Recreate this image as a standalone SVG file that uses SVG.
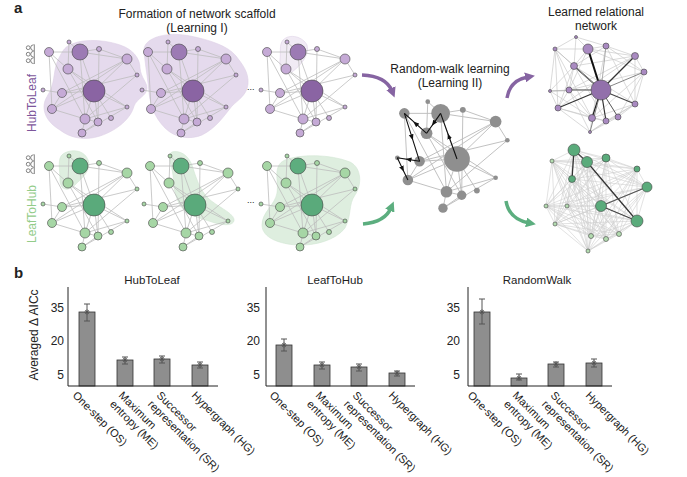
<svg xmlns="http://www.w3.org/2000/svg" xmlns:xlink="http://www.w3.org/1999/xlink" width="687" height="477" viewBox="0 0 687 477">
<style>
text{font-family:"Liberation Sans",Arial,sans-serif;fill:#222}
.t{font-size:12px;text-anchor:middle}
.lab{font-size:11px}
.tick{font-size:12px;text-anchor:end}
.ttl{font-size:11.5px;text-anchor:middle}
.e{fill:none;stroke:#bdbdbd;stroke-width:.8}
.bar{fill:#8e8e8e;stroke:#333;stroke-width:.8}
.err{fill:none;stroke:#555;stroke-width:1}
.ax{fill:none;stroke:#222;stroke-width:1}
.ppl{fill:none;stroke:#666;stroke-width:.8}
.nd{stroke:#444;stroke-width:.6}
.hp{fill:#e5daed;stroke:#ddd0e6;stroke-width:.6}
.hg{fill:#deeedf;stroke:#d2e6d3;stroke-width:.6}
.walk{fill:none;stroke:#111;stroke-width:1.1}
</style>
<defs>
<path id="edges" d="M49 52L80 52M49 52L52 109M49 52L85 119M49 52L68 69M69 42L80 52M69 42L68 69M80 52L99 49M80 52L127 59M80 52L94 91M80 52L85 119M99 49L127 59M99 49L98 122M127 59L94 91M127 59L52 109M127 59L62 93M127 59L137 75M68 69L94 91M68 69L127 107M68 69L98 122M137 75L62 93M137 75L85 119M94 91L62 93M94 91L52 109M94 91L127 107M94 91L85 119M94 91L98 122M94 91L111 118M43 90L62 93M62 93L52 109M52 109L85 119M127 107L85 119M127 107L82 133M85 119L98 122M85 119L82 133M98 122L82 133"/>
<g id="ln">
<circle cx="49" cy="52" r="4.5"/><circle cx="69" cy="42" r="2"/><circle cx="99" cy="49" r="2.5"/><circle cx="127" cy="59" r="5"/><circle cx="68" cy="69" r="5"/><circle cx="137" cy="75" r="2"/><circle cx="43" cy="90" r="2"/><circle cx="62" cy="93" r="4.5"/><circle cx="52" cy="109" r="4.5"/><circle cx="127" cy="107" r="2"/><circle cx="85" cy="119" r="5"/><circle cx="98" cy="122" r="4"/><circle cx="111" cy="118" r="2.5"/><circle cx="82" cy="133" r="4"/>
</g>
<g id="people" class="ppl">
<circle cx="3.3" cy="2.2" r="1.9"/><path d="M0.4 7.6A2.9 2.9 0 0 1 6.2 7.6"/>
<circle cx="9.8" cy="2.2" r="1.9"/><path d="M6.9 7.6A2.9 2.9 0 0 1 12.7 7.6"/>
<circle cx="16.3" cy="2.2" r="1.9"/><path d="M13.4 7.6A2.9 2.9 0 0 1 19.2 7.6"/>
<path d="M0 8.3H19.6"/>
</g>
<path id="star" d="M-2.6 0H2.6M0 -2.6V2.6M-1.8 -1.8L1.8 1.8M-1.8 1.8L1.8 -1.8" fill="none" stroke="#555" stroke-width="0.9"/>
<marker id="ap" viewBox="0 0 10 10" refX="3" refY="5" markerWidth="10" markerHeight="10" markerUnits="userSpaceOnUse" orient="auto"><path d="M0 0L10 5L0 10z" fill="#8664a2"/></marker>
<marker id="ag" viewBox="0 0 10 10" refX="3" refY="5" markerWidth="10" markerHeight="10" markerUnits="userSpaceOnUse" orient="auto"><path d="M0 0L10 5L0 10z" fill="#5cae7f"/></marker>
<marker id="ak" viewBox="0 0 10 10" refX="5" refY="5" markerWidth="6" markerHeight="6" markerUnits="userSpaceOnUse" orient="auto"><path d="M0 1L10 5L0 9z" fill="#111"/></marker>
</defs>

<text x="14" y="13" font-size="15" font-weight="bold">a</text>
<text x="197" y="18" class="t">Formation of network scaffold</text>
<text x="197" y="31.5" class="t">(Learning I)</text>
<text x="450" y="73" class="t">Random-walk learning</text>
<text x="450" y="86.5" class="t">(Learning II)</text>
<text x="596" y="16" class="t">Learned relational</text>
<text x="596" y="29.5" class="t">network</text>

<g id="row-labels">
<use xlink:href="#people" transform="translate(26,64) rotate(-90)"/>
<text transform="translate(36,103) rotate(-90)" font-size="12" text-anchor="middle" style="fill:#7d569b">HubToLeaf</text>
<use xlink:href="#people" transform="translate(26,174) rotate(-90)"/>
<text transform="translate(36,214) rotate(-90)" font-size="12" text-anchor="middle" style="fill:#93cc8a">LeafToHub</text>
</g>

<g id="htl-1">
<path class="hp" d="M72 44C85 38 110 40 125 47C135 52 140 60 140 68C141 78 147 82 147 88C147 96 137 98 134 106C131 118 118 130 100 136C85 141 70 138 60 130C50 124 44 116 44 107C44 98 50 94 52 86C55 76 54 66 60 56C63 50 66 46 72 44Z"/>
<use xlink:href="#edges" class="e"/>
<use xlink:href="#ln" fill="#c5aad6" class="nd"/>
<circle cx="80" cy="52" r="8" fill="#9c7ab4" class="nd"/>
<circle cx="94" cy="91" r="11" fill="#8a64a3" class="nd"/>
</g>
<g id="htl-2">
<path class="hp" d="M146 44C152 36 170 32 190 36C210 40 228 46 236 56C242 64 249 72 248 84C247 95 238 100 232 106C224 116 216 128 202 135C190 140 175 138 165 128C155 118 150 105 149 92C148 80 146 70 145 60C144 52 143 48 146 44Z"/>
<g transform="translate(99,0)">
<use xlink:href="#edges" class="e"/>
<use xlink:href="#ln" fill="#c5aad6" class="nd"/>
<circle cx="80" cy="52" r="8" fill="#9c7ab4" class="nd"/>
<circle cx="94" cy="91" r="11" fill="#8a64a3" class="nd"/>
</g>
</g>
<g id="htl-3">
<path d="M283 40C290 33 303 37 307 45C310 55 300 66 292 72C285 76 279 70 280 60C281 52 279 45 283 40Z" fill="#f1ebf5" stroke="#ddd0e6" stroke-width="0.6"/>
<g transform="translate(218,0)">
<use xlink:href="#edges" class="e"/>
<use xlink:href="#ln" fill="#c5aad6" class="nd"/>
<circle cx="80" cy="52" r="8" fill="#9c7ab4" class="nd"/>
<circle cx="94" cy="91" r="11" fill="#8a64a3" class="nd"/>
</g>
</g>
<text x="247" y="90" font-size="9">...</text>

<g id="lth-1">
<path class="hg" d="M63 154C70 149 84 149 88 160C92 170 82 178 75 185C68 192 60 190 60 180C60 170 57 158 63 154Z"/>
<g transform="translate(0,114)">
<use xlink:href="#edges" class="e"/>
<use xlink:href="#ln" fill="#a6d6a5" class="nd"/>
<circle cx="80" cy="52" r="8" fill="#5dad7e" class="nd"/>
<circle cx="94" cy="91" r="11" fill="#5aaa7b" class="nd"/>
</g>
</g>
<g id="lth-2">
<path class="hg" d="M172 152C180 150 188 155 192 165C196 178 200 190 208 198C216 206 232 212 234 219C235 226 224 226 212 222C200 218 186 215 180 205C174 195 174 185 173 175C172 165 166 155 172 152Z"/>
<g transform="translate(101,114)">
<use xlink:href="#edges" class="e"/>
<use xlink:href="#ln" fill="#a6d6a5" class="nd"/>
<circle cx="80" cy="52" r="8" fill="#5dad7e" class="nd"/>
<circle cx="94" cy="91" r="11" fill="#5aaa7b" class="nd"/>
</g>
</g>
<g id="lth-3">
<path class="hg" d="M285 160C300 154 330 154 350 162C362 168 362 185 355 195C348 205 352 215 345 228C336 240 315 246 297 245C280 244 262 238 262 225C262 212 275 205 277 193C279 180 272 166 285 160Z"/>
<g transform="translate(218,114)">
<use xlink:href="#edges" class="e"/>
<use xlink:href="#ln" fill="#a6d6a5" class="nd"/>
<circle cx="80" cy="52" r="8" fill="#5dad7e" class="nd"/>
<circle cx="94" cy="91" r="11" fill="#5aaa7b" class="nd"/>
</g>
</g>
<text x="247" y="203" font-size="9">...</text>

<g id="random-walk-net" transform="translate(457,159) scale(1.17) translate(-94,-91)">
<use xlink:href="#edges" class="e"/>
<use xlink:href="#ln" fill="#8f8f8f"/>
<circle cx="80" cy="52" r="8" fill="#8f8f8f"/>
<circle cx="94" cy="91" r="11" fill="#8f8f8f"/>
</g>

<g id="learned-htl">
<path fill="none" stroke="#cacaca" stroke-width="0.7" d="M555 49 576 37M555 49 588 49M555 49 574 66M555 49 550 91M555 49 569 90M555 49 558 108M555 49 592 118M576 37 588 49M576 37 574 66M576 37 606 46M588 49 606 46M588 49 635 56M588 49 574 66M588 49 569 90M588 49 644 72M606 46 635 56M606 46 574 66M606 46 644 72M606 46 592 118M606 46 635 104M635 56 644 72M635 56 574 66M635 56 569 90M635 56 635 104M635 56 558 108M574 66 550 91M574 66 569 90M574 66 558 108M574 66 635 104M574 66 606 121M644 72 635 104M644 72 569 90M644 72 618 117M644 72 592 118M550 91 569 90M550 91 558 108M550 91 592 118M569 90 558 108M569 90 592 118M569 90 590 132M558 108 592 118M558 108 590 132M558 108 606 121M635 104 592 118M635 104 606 121M635 104 618 117M635 104 590 132M592 118 606 121M592 118 590 132M606 121 618 117M606 121 590 132M618 117 590 132"/>
<g fill="none">
<path d="M601 90 588 49" stroke="#111" stroke-width="2"/>
<path d="M601 90 574 66" stroke="#222" stroke-width="1.4"/>
<path d="M601 90 635 56" stroke="#333" stroke-width="1.3"/>
<path d="M601 90 644 72" stroke="#777" stroke-width="0.9"/>
<path d="M601 90 606 46" stroke="#999" stroke-width="0.8"/>
<path d="M601 90 569 90" stroke="#444" stroke-width="1.1"/>
<path d="M601 90 558 108" stroke="#333" stroke-width="1.2"/>
<path d="M601 90 635 104" stroke="#444" stroke-width="1.1"/>
<path d="M601 90 592 118" stroke="#222" stroke-width="1.3"/>
<path d="M601 90 606 121" stroke="#333" stroke-width="1.2"/>
<path d="M601 90 618 117" stroke="#555" stroke-width="1"/>
<path d="M601 90 590 132" stroke="#777" stroke-width="0.9"/>
<path d="M601 90 550 91" stroke="#aaa" stroke-width="0.8"/>
<path d="M601 90 555 49" stroke="#bbb" stroke-width="0.7"/>
</g>
<g fill="#a98ac1" class="nd">
<circle cx="555" cy="49" r="2"/><circle cx="576" cy="37" r="1.5"/><circle cx="588" cy="49" r="5"/><circle cx="606" cy="46" r="3"/><circle cx="635" cy="56" r="3.5"/><circle cx="574" cy="66" r="3.5"/><circle cx="644" cy="72" r="3"/><circle cx="550" cy="91" r="1.5"/><circle cx="569" cy="90" r="3"/><circle cx="558" cy="108" r="3"/><circle cx="635" cy="104" r="3"/><circle cx="592" cy="118" r="3.5"/><circle cx="606" cy="121" r="3"/><circle cx="618" cy="117" r="3"/><circle cx="590" cy="132" r="1.5"/>
<circle cx="601" cy="90" r="10" fill="#9270ab"/>
</g>
</g>

<g id="learned-lth">
<path fill="none" stroke="#cfcfcf" stroke-width="0.6" d="M552 161 574 150M552 161 587 162M552 161 606 158M552 161 637 169M552 161 572 179M552 161 647 187M552 161 601 206M552 161 546 206M552 161 567 206M552 161 555 224M552 161 637 221M552 161 591 236M552 161 606 239M552 161 619 234M552 161 588 251M574 150 587 162M574 150 606 158M574 150 637 169M574 150 572 179M574 150 647 187M574 150 601 206M574 150 546 206M574 150 567 206M574 150 555 224M574 150 637 221M574 150 591 236M574 150 606 239M574 150 619 234M574 150 588 251M587 162 606 158M587 162 637 169M587 162 572 179M587 162 647 187M587 162 601 206M587 162 546 206M587 162 567 206M587 162 555 224M587 162 637 221M587 162 591 236M587 162 606 239M587 162 619 234M587 162 588 251M606 158 637 169M606 158 572 179M606 158 647 187M606 158 601 206M606 158 546 206M606 158 567 206M606 158 555 224M606 158 637 221M606 158 591 236M606 158 606 239M606 158 619 234M606 158 588 251M637 169 572 179M637 169 647 187M637 169 601 206M637 169 546 206M637 169 567 206M637 169 555 224M637 169 637 221M637 169 591 236M637 169 606 239M637 169 619 234M637 169 588 251M572 179 647 187M572 179 601 206M572 179 546 206M572 179 567 206M572 179 555 224M572 179 637 221M572 179 591 236M572 179 606 239M572 179 619 234M572 179 588 251M647 187 601 206M647 187 546 206M647 187 567 206M647 187 555 224M647 187 637 221M647 187 591 236M647 187 606 239M647 187 619 234M647 187 588 251M601 206 546 206M601 206 567 206M601 206 555 224M601 206 637 221M601 206 591 236M601 206 606 239M601 206 619 234M601 206 588 251M546 206 567 206M546 206 555 224M546 206 637 221M546 206 591 236M546 206 606 239M546 206 619 234M546 206 588 251M567 206 555 224M567 206 637 221M567 206 591 236M567 206 606 239M567 206 619 234M567 206 588 251M555 224 637 221M555 224 591 236M555 224 606 239M555 224 619 234M555 224 588 251M637 221 591 236M637 221 606 239M637 221 619 234M637 221 588 251M591 236 606 239M591 236 619 234M591 236 588 251M606 239 619 234M606 239 588 251M619 234 588 251"/>
<g fill="none">
<path d="M574 150 572 179" stroke="#333" stroke-width="1.3"/>
<path d="M574 150 587 162" stroke="#444" stroke-width="1.3"/>
<path d="M587 162 637 221" stroke="#333" stroke-width="1.2"/>
<path d="M601 206 647 187" stroke="#555" stroke-width="1.1"/>
<path d="M601 206 637 221" stroke="#444" stroke-width="1.1"/>
</g>
<g class="nd">
<g fill="#b3dcb0"><circle cx="552" cy="161" r="2"/><circle cx="546" cy="206" r="2"/><circle cx="567" cy="206" r="2"/><circle cx="555" cy="224" r="2"/><circle cx="591" cy="236" r="2.5"/><circle cx="606" cy="239" r="2.5"/><circle cx="619" cy="234" r="2.5"/><circle cx="588" cy="251" r="2"/></g>
<g fill="#5aab7b"><circle cx="574" cy="150" r="6"/><circle cx="587" cy="162" r="5.5"/><circle cx="606" cy="158" r="4"/><circle cx="637" cy="169" r="3"/><circle cx="572" cy="179" r="3.5"/><circle cx="647" cy="187" r="5"/><circle cx="601" cy="206" r="5.5"/><circle cx="637" cy="221" r="6"/></g>
</g>
</g>

<g id="connectors">
<path d="M362 75Q386 76 392 91" fill="none" stroke="#8664a2" stroke-width="3.5" marker-end="url(#ap)"/>
<path d="M507 98Q510 80 528 77" fill="none" stroke="#8664a2" stroke-width="3.5" marker-end="url(#ap)"/>
<path d="M363 224Q385 222 391 208" fill="none" stroke="#5cae7f" stroke-width="3.5" marker-end="url(#ag)"/>
<path d="M506 201Q509 219 529 223" fill="none" stroke="#5cae7f" stroke-width="3.5" marker-end="url(#ag)"/>
<path class="walk" d="M457 159L448.8 136.2L440.6 113.4" marker-mid="url(#ak)"/>
<path class="walk" d="M440.6 113.4L433.6 123.4L426.6 133.3" marker-mid="url(#ak)"/>
<path class="walk" d="M426.6 133.3L415.5 123.4L404.4 113.4" marker-mid="url(#ak)"/>
<path class="walk" d="M404.4 113.4L412 137.4L419.6 161.3" marker-mid="url(#ak)"/>
<path class="walk" d="M419.6 161.3L408.5 159.5L397.3 157.8" marker-mid="url(#ak)"/>
<path class="walk" d="M397.3 157.8L402.6 169L407.9 180.1" marker-mid="url(#ak)"/>
</g>

<text x="14" y="278" font-size="15" font-weight="bold">b</text>
<text transform="translate(38,335) rotate(-90)" font-size="12" text-anchor="middle">Averaged Δ AICc</text>

<g id="chart-htl">
<text x="152" y="284" class="ttl">HubToLeaf</text>
<text x="64" y="312.3" class="tick">35</text><text x="64" y="345.3" class="tick">20</text><text x="64" y="379.3" class="tick">5</text>
<rect class="bar" x="79" y="312" width="16" height="74"/><rect class="bar" x="117" y="360" width="16" height="26"/><rect class="bar" x="154" y="359" width="16" height="27"/><rect class="bar" x="192" y="365" width="16" height="21"/>
<path class="err" d="M87 304V321M84 304H90M84 321H90M125 357V364M122 357H128M122 364H128M162 356V363M159 356H165M159 363H165M200 362V368M197 362H203M197 368H203"/>
<use xlink:href="#star" x="87" y="312"/><use xlink:href="#star" x="125" y="360"/><use xlink:href="#star" x="162" y="359"/><use xlink:href="#star" x="200" y="365"/>
<path class="ax" d="M68 287V386H218"/>
<text class="lab" transform="translate(72,396) rotate(45)">One-step (OS)</text>
<text class="lab" transform="translate(118,396) rotate(45)"><tspan x="0" y="0">Maximum</tspan><tspan x="0" y="12.5">entropy (ME)</tspan></text>
<text class="lab" transform="translate(156,396) rotate(45)"><tspan x="0" y="0">Successor</tspan><tspan x="0" y="12.5">representation (SR)</tspan></text>
<text class="lab" transform="translate(191,396) rotate(45)">Hypergraph (HG)</text>
</g>

<g id="chart-lth">
<text x="335" y="284" class="ttl">LeafToHub</text>
<text x="260" y="312.3" class="tick">35</text><text x="260" y="345.3" class="tick">20</text><text x="260" y="379.3" class="tick">5</text>
<rect class="bar" x="276" y="345" width="16" height="41"/><rect class="bar" x="314" y="365" width="16" height="21"/><rect class="bar" x="351" y="367" width="16" height="19"/><rect class="bar" x="389" y="373" width="16" height="13"/>
<path class="err" d="M284 339V351M281 339H287M281 351H287M322 362V369M319 362H325M319 369H325M359 364V371M356 364H362M356 371H362M397 371V376M394 371H400M394 376H400"/>
<use xlink:href="#star" x="284" y="345"/><use xlink:href="#star" x="322" y="365"/><use xlink:href="#star" x="359" y="367"/><use xlink:href="#star" x="397" y="373"/>
<path class="ax" d="M266 287V386H415"/>
<text class="lab" transform="translate(269,396) rotate(45)">One-step (OS)</text>
<text class="lab" transform="translate(315,396) rotate(45)"><tspan x="0" y="0">Maximum</tspan><tspan x="0" y="12.5">entropy (ME)</tspan></text>
<text class="lab" transform="translate(352,396) rotate(45)"><tspan x="0" y="0">Successor</tspan><tspan x="0" y="12.5">representation (SR)</tspan></text>
<text class="lab" transform="translate(388,396) rotate(45)">Hypergraph (HG)</text>
</g>

<g id="chart-rw">
<text x="537" y="284" class="ttl">RandomWalk</text>
<text x="460" y="312.3" class="tick">35</text><text x="460" y="345.3" class="tick">20</text><text x="460" y="379.3" class="tick">5</text>
<rect class="bar" x="474" y="312" width="16" height="74"/><rect class="bar" x="511" y="378" width="16" height="8"/><rect class="bar" x="548" y="364" width="16" height="22"/><rect class="bar" x="586" y="363" width="16" height="23"/>
<path class="err" d="M482 299V324M479 299H485M479 324H485M519 374V380M516 374H522M516 380H522M556 362V367M553 362H559M553 367H559M594 359V367M591 359H597M591 367H597"/>
<use xlink:href="#star" x="482" y="312"/><use xlink:href="#star" x="519" y="378"/><use xlink:href="#star" x="556" y="364"/><use xlink:href="#star" x="594" y="363"/>
<path class="ax" d="M468 287V386H612"/>
<text class="lab" transform="translate(467,396) rotate(45)">One-step (OS)</text>
<text class="lab" transform="translate(512,396) rotate(45)"><tspan x="0" y="0">Maximum</tspan><tspan x="0" y="12.5">entropy (ME)</tspan></text>
<text class="lab" transform="translate(550,396) rotate(45)"><tspan x="0" y="0">Successor</tspan><tspan x="0" y="12.5">representation (SR)</tspan></text>
<text class="lab" transform="translate(585,396) rotate(45)">Hypergraph (HG)</text>
</g>
</svg>
